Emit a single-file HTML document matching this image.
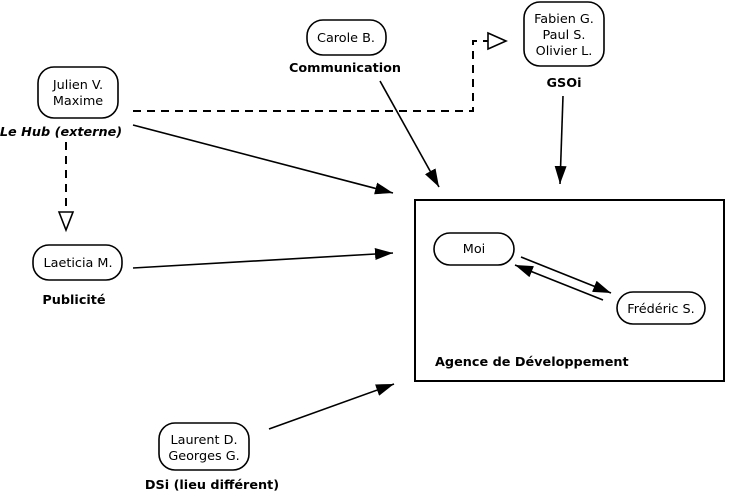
<!DOCTYPE html>
<html><head><meta charset="utf-8"><style>
html,body{margin:0;padding:0;background:#fff;}
svg{display:block;font-family:"DejaVu Sans","Liberation Sans",sans-serif;font-size:12.8px;}
.n{fill:#fff;stroke:#000;stroke-width:1.6;}
.b{font-weight:bold;}
</style></head><body>
<svg width="729" height="494" viewBox="0 0 729 494" xmlns="http://www.w3.org/2000/svg" font-size="12.8">
<defs>
<marker id="a" markerWidth="18" markerHeight="12" refX="18" refY="6" orient="auto" markerUnits="userSpaceOnUse">
<path d="M0,0 L18,6 L0,12 z" fill="#000"/></marker>
</defs>
<rect class="n" x="38" y="67" width="80" height="51" rx="16"/>
<text x="78" y="89" text-anchor="middle">Julien V.</text>
<text x="78" y="105" text-anchor="middle">Maxime</text>
<text x="61" y="136" text-anchor="middle" class="b" font-style="italic">Le Hub (externe)</text>

<rect class="n" x="307" y="20" width="79" height="35" rx="16"/>
<text x="346" y="42" text-anchor="middle">Carole B.</text>
<text x="345" y="72" text-anchor="middle" class="b">Communication</text>

<rect class="n" x="524" y="2" width="80" height="64" rx="16"/>
<text x="564" y="23" text-anchor="middle">Fabien G.</text>
<text x="564" y="39" text-anchor="middle">Paul S.</text>
<text x="564" y="55" text-anchor="middle">Olivier L.</text>
<text x="564" y="87" text-anchor="middle" class="b">GSOi</text>

<rect class="n" x="33" y="245" width="89" height="35" rx="16"/>
<text x="78" y="267" text-anchor="middle">Laeticia M.</text>
<text x="74" y="304" text-anchor="middle" class="b">Publicité</text>

<rect class="n" x="159" y="423" width="90" height="47" rx="16"/>
<text x="204" y="444" text-anchor="middle">Laurent D.</text>
<text x="204" y="460" text-anchor="middle">Georges G.</text>
<text x="212" y="489" text-anchor="middle" class="b">DSi (lieu différent)</text>

<rect x="415" y="200" width="309" height="181" fill="none" stroke="#000" stroke-width="2"/>
<rect class="n" x="434" y="233" width="80" height="32" rx="16"/>
<text x="474" y="253" text-anchor="middle">Moi</text>
<rect class="n" x="617" y="292" width="88" height="32" rx="16"/>
<text x="661" y="313" text-anchor="middle">Frédéric S.</text>
<text x="435" y="366" class="b">Agence de Développement</text>

<path d="M133,111 H473 V41 H488" fill="none" stroke="#000" stroke-width="2" stroke-dasharray="8,6"/>
<path d="M488,33 L506,41 L488,49 z" fill="#fff" stroke="#000" stroke-width="1.6"/>
<path d="M66,142 V212" fill="none" stroke="#000" stroke-width="2" stroke-dasharray="8,6"/>
<path d="M59,212 L66,230 L73,212 z" fill="#fff" stroke="#000" stroke-width="1.6"/>

<g stroke="#000" stroke-width="1.6" fill="none" marker-end="url(#a)">
<line x1="133" y1="125" x2="393" y2="193"/>
<line x1="380" y1="81" x2="439" y2="187"/>
<line x1="563" y1="96" x2="560" y2="184"/>
<line x1="133" y1="268" x2="393" y2="253"/>
<line x1="269" y1="429" x2="394" y2="384"/>
<line x1="521" y1="257" x2="611" y2="293"/>
<line x1="603" y1="300" x2="515" y2="265"/>
</g>
</svg>
</body></html>
